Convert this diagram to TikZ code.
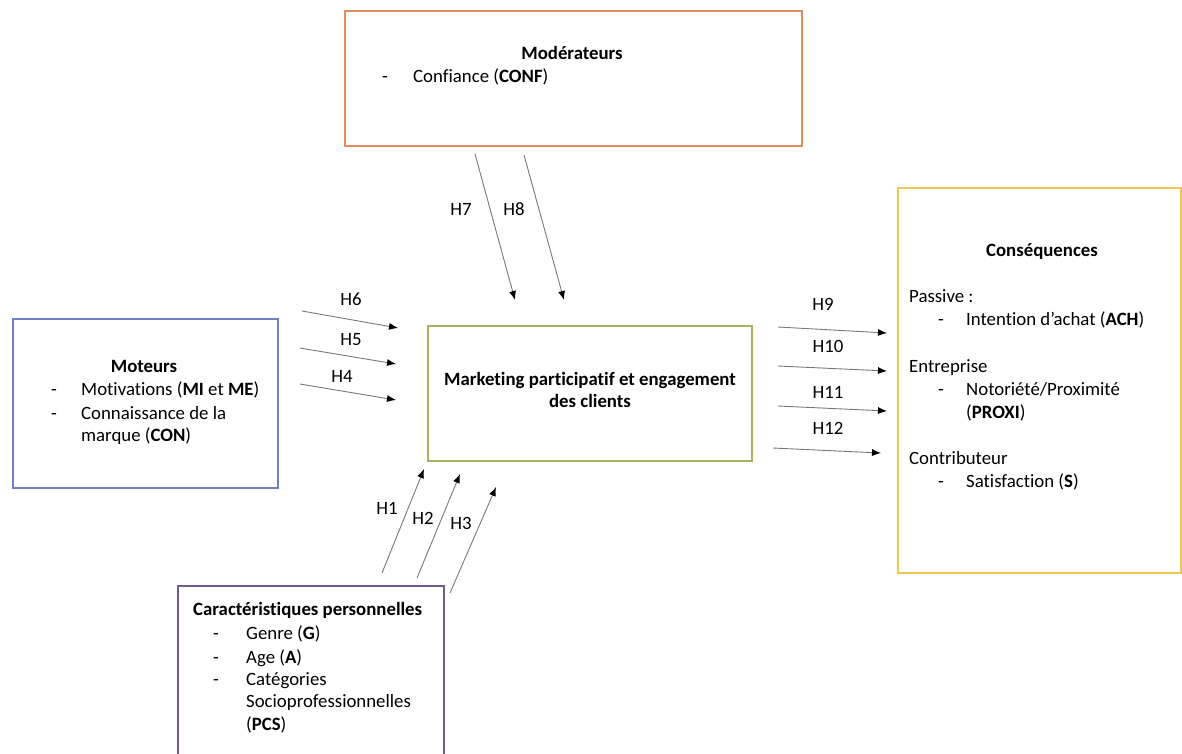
\documentclass[tikz,border=0pt]{standalone}
\usepackage{fontspec}
\setmainfont[Ligatures=NoCommon]{Carlito}
\usetikzlibrary{arrows.meta}
\definecolor{cOrange}{RGB}{228,140,95}
\definecolor{cBlue}{RGB}{112,130,196}
\definecolor{cGreen}{RGB}{165,180,95}
\definecolor{cGold}{RGB}{238,200,85}
\definecolor{cPurple}{RGB}{112,90,140}
\definecolor{cLine}{RGB}{120,120,120}
\tikzset{
  frame/.style={draw=#1, line width=1.6pt, anchor=north west, inner sep=0pt},
  txt/.style={inner sep=0pt, anchor=mid west, font=\fontsize{18.8}{22}\selectfont},
  ctxt/.style={inner sep=0pt, anchor=mid, font=\fontsize{18.8}{22}\selectfont},
  hyp/.style={draw=cLine, line width=0.9pt, -{Latex[length=9pt,width=7pt,color=black]}},
  hlab/.style={inner sep=0pt, anchor=mid, font=\fontsize{18.8}{22}\selectfont},
}
\begin{document}
\begin{tikzpicture}[x=1pt,y=-1pt]
\useasboundingbox (0,0) rectangle (1182,753);
\clip (0,0) rectangle (1182,753);
% boxes
\node[frame=cOrange, minimum width=457pt, minimum height=135pt] (mod) at (344,10) {};
\node[frame=cBlue, minimum width=265pt, minimum height=169pt] (mot) at (12,318) {};
\node[frame=cGreen, minimum width=324pt, minimum height=135pt] (mkt) at (427,325) {};
\node[frame=cGold, minimum width=283pt, minimum height=385pt] (cons) at (897,187) {};
\node[frame=cPurple, minimum width=266pt, minimum height=200pt] (car) at (177,585) {};
% top box text
\node[ctxt] (modT) at (572,57) {\textbf{Modérateurs}};
\node[txt] (modD) at (382,80) {-};
\node[txt] (modA) at (413,80) {Confiance (\textbf{CONF})};
% left box text
\node[ctxt] (motT) at (144,370) {\textbf{Moteurs}};
\node[txt] (motD1) at (51,393) {-};
\node[txt] (motA) at (81,393) {Motivations (\textbf{MI} et \textbf{ME})};
\node[txt] (motD2) at (51,417) {-};
\node[txt] (motB) at (81,417) {Connaissance de la};
\node[txt] (motC) at (81,439) {marque (\textbf{CON})};
% center text
\node[ctxt] (mktA) at (590,383) {\textbf{Marketing participatif et engagement}};
\node[ctxt] (mktB) at (590,405) {\textbf{des clients}};
% right box text
\node[ctxt] (consT) at (1042,254) {\textbf{Conséquences}};
\node[txt] (pas) at (909,300) {Passive :};
\node[txt] (pasD) at (938,323) {-};
\node[txt] (pasA) at (966,323) {Intention d’achat (\textbf{ACH})};
\node[txt] (ent) at (909,370) {Entreprise};
\node[txt] (entD) at (938,393) {-};
\node[txt] (entA) at (966,393) {Notoriété/Proximité};
\node[txt] (entB) at (966,416) {(\textbf{PROXI})};
\node[txt] (con) at (909,462) {Contributeur};
\node[txt] (conD) at (938,485) {-};
\node[txt] (conA) at (966,485) {Satisfaction (\textbf{S})};
% bottom box text
\node[txt] (carT) at (193,613) {\textbf{Caractéristiques personnelles}};
\node[txt] (carD1) at (213,637) {-};
\node[txt] (carA) at (246,637) {Genre (\textbf{G})};
\node[txt] (carD2) at (213,661) {-};
\node[txt] (carB) at (246,661) {Age (\textbf{A})};
\node[txt] (carD3) at (213,683) {-};
\node[txt] (carC) at (246,683) {Catégories};
\node[txt] (carE) at (246,705) {Socioprofessionnelles};
\node[txt] (carF) at (246,728) {(\textbf{PCS})};
% arrow coordinates
\coordinate (h6s) at (302,311); \coordinate (h6e) at (398,328);
\coordinate (h5s) at (300,348); \coordinate (h5e) at (396,364);
\coordinate (h4s) at (300,384); \coordinate (h4e) at (396,400);
\coordinate (h7s) at (475,154); \coordinate (h7e) at (515,300);
\coordinate (h8s) at (524,155); \coordinate (h8e) at (564,300);
\coordinate (h9s) at (778,327); \coordinate (h9e) at (887,333);
\coordinate (h10s) at (778,366); \coordinate (h10e) at (887,371);
\coordinate (h11s) at (778,406); \coordinate (h11e) at (887,411);
\coordinate (h12s) at (773,448); \coordinate (h12e) at (881,453);
\coordinate (h1s) at (382,573); \coordinate (h1e) at (424,469);
\coordinate (h2s) at (417,578); \coordinate (h2e) at (460,474);
\coordinate (h3s) at (450,593); \coordinate (h3e) at (496,487);
\foreach \h in {1,...,12}{\draw[hyp] (h\h s) -- (h\h e);}
% labels
\node[hlab] (l6) at (351,303) {H6};
\node[hlab] (l5) at (351,343) {H5};
\node[hlab] (l4) at (342,380) {H4};
\node[hlab] (l7) at (461,213) {H7};
\node[hlab] (l8) at (514,213) {H8};
\node[hlab] (l9) at (823,308) {H9};
\node[hlab] (l10) at (828,350) {H10};
\node[hlab] (l11) at (828,396) {H11};
\node[hlab] (l12) at (828,432) {H12};
\node[hlab] (l1) at (387,512) {H1};
\node[hlab] (l2) at (423,522) {H2};
\node[hlab] (l3) at (461,527) {H3};
\end{tikzpicture}
\end{document}
